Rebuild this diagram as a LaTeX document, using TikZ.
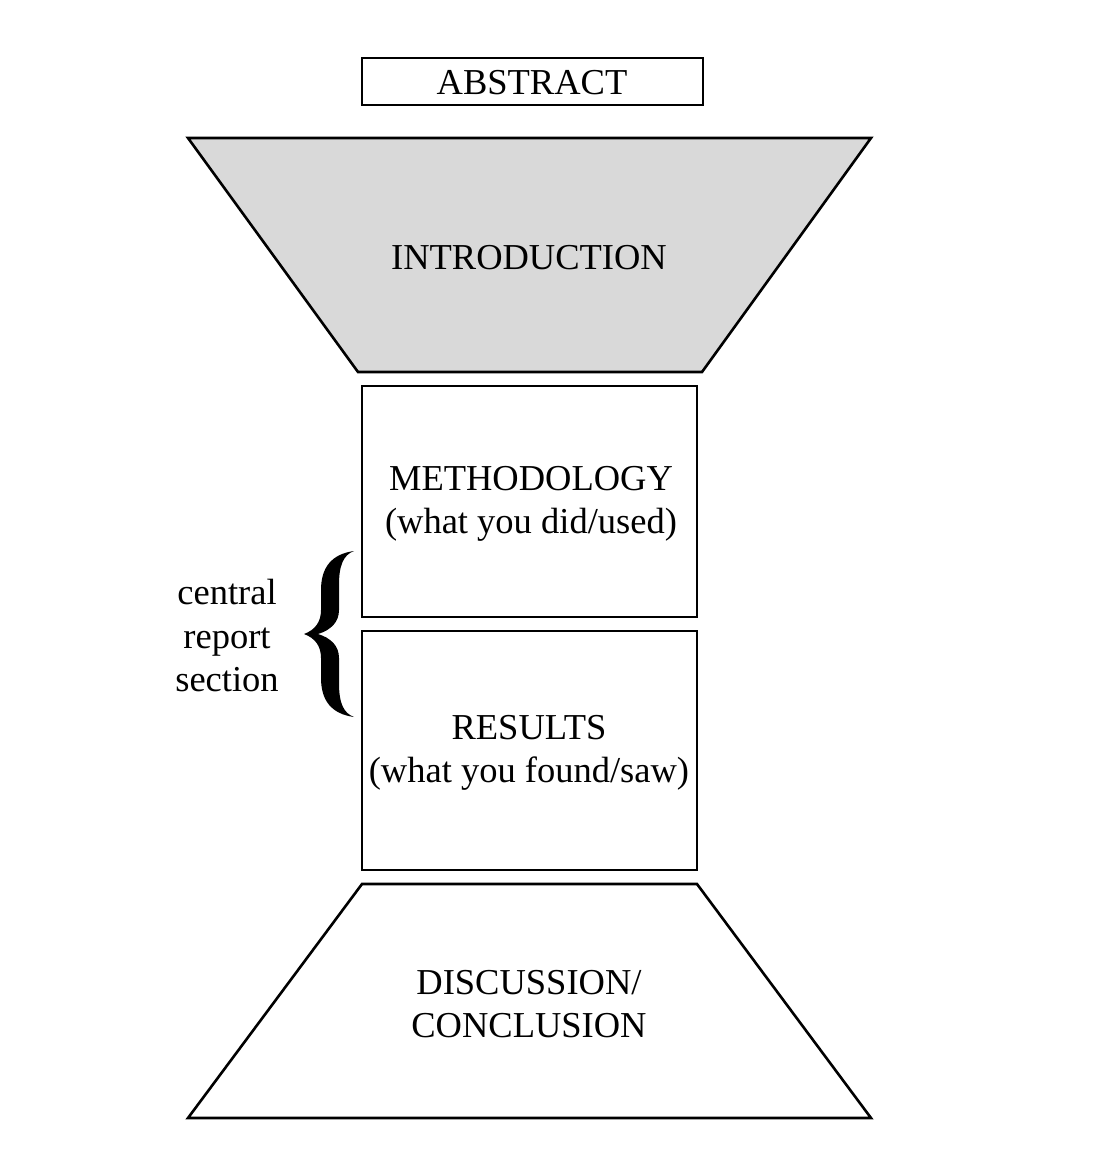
\documentclass[tikz,border=0pt]{standalone}
\usepackage{fontspec}
\setmainfont{Liberation Serif}
\definecolor{introgray}{HTML}{D9D9D9}
\begin{document}
\begin{tikzpicture}[x=1pt,y=-1pt,
  shapeline/.style={draw=black,line width=2.6pt,line join=miter},
  lbl/.style={font=\fontsize{36.5}{43.5}\selectfont,align=center,inner sep=0pt}]
\useasboundingbox (0,0) rectangle (1094,1162);
% abstract
\draw[shapeline,line width=2.2pt] (362,58) rectangle (703,105);
\node[lbl] (abs) at (532,83) {ABSTRACT};
% introduction
\draw[shapeline,fill=introgray] (188,138) -- (871,138) -- (702,372) -- (358,372) -- cycle;
\node[lbl] (intro) at (529,258) {INTRODUCTION};
% methodology
\draw[shapeline] (362,386) rectangle (697,617);
\node[lbl] (meth) at (531,504) {METHODOLOGY\\(what you did/used)};
% results
\draw[shapeline] (362,631) rectangle (697,870);
\node[lbl] (res) at (529,753) {RESULTS\\(what you found/saw)};
% discussion
\draw[shapeline] (362,884) -- (697,884) -- (871,1118) -- (188,1118) -- cycle;
\node[lbl] (disc) at (529,1004) {DISCUSSION/\\CONCLUSION};
% brace
\fill[black] (354,551)
  .. controls (343,555) and (339,566) .. (339,585) -- (339,610)
  .. controls (339,622) and (331,630) .. (318,634)
  .. controls (331,638) and (339,646) .. (339,658) -- (339,683)
  .. controls (339,702) and (343,713) .. (354,717)
  .. controls (332,714) and (321,701) .. (321,678) -- (321,658)
  .. controls (321,646) and (315,638) .. (304,634)
  .. controls (315,630) and (321,622) .. (321,610) -- (321,590)
  .. controls (321,567) and (332,554) .. (354,551) -- cycle;
\node[lbl] (central) at (227,636) {central\\report\\section};
\end{tikzpicture}
\end{document}
